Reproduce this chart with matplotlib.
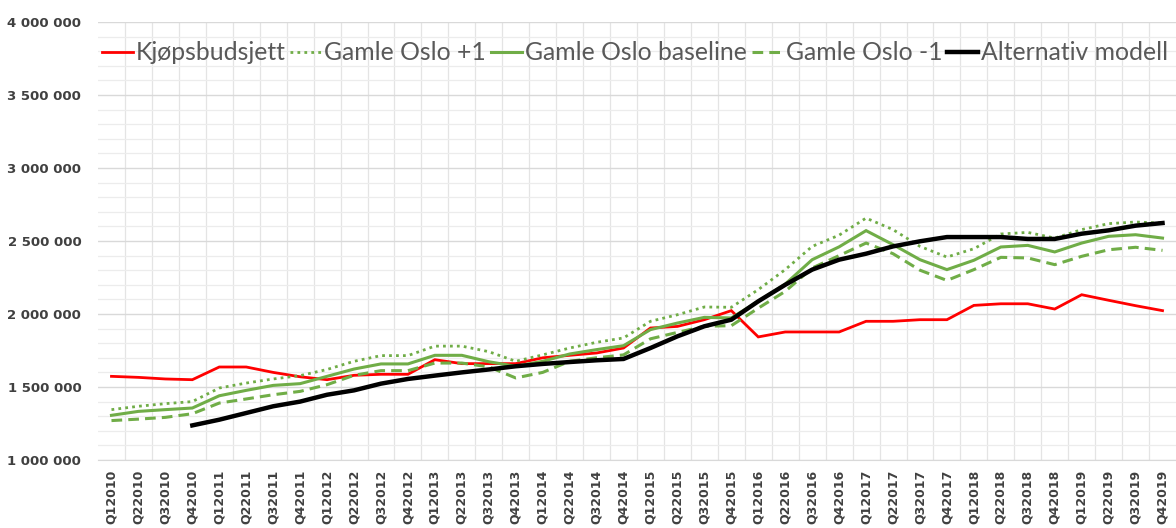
import numpy as np
import matplotlib
matplotlib.use('Agg')
from matplotlib import pyplot as plt
from matplotlib.ticker import MultipleLocator, FuncFormatter

quarters = ['Q%d%d' % (q, y) for y in range(2010, 2020) for q in range(1, 5)]

kjopsbudsjett = [1573, 1566, 1555, 1550, 1637, 1637, 1600, 1570, 1550, 1580,
                 1587, 1587, 1687, 1660, 1660, 1660, 1700, 1717, 1733, 1767,
                 1904, 1915, 1961, 2023, 1843, 1877, 1877, 1877, 1950, 1950,
                 1961, 1961, 2059, 2070, 2070, 2034, 2132, 2094, 2057, 2023]

gamle_oslo_p1 = [1345, 1368, 1386, 1400, 1493, 1527, 1555, 1578, 1620, 1676,
                 1715, 1715, 1780, 1780, 1742, 1676, 1720, 1767, 1806, 1836,
                 1950, 1995, 2048, 2046, 2167, 2304, 2463, 2540, 2657, 2578,
                 2463, 2390, 2447, 2548, 2559, 2520, 2578, 2619, 2630, 2623]

gamle_oslo_base = [1306, 1333, 1345, 1356, 1440, 1477, 1511, 1523, 1573, 1623,
                   1658, 1658, 1717, 1717, 1673, 1642, 1676, 1726, 1756, 1783,
                   1893, 1938, 1977, 1973, 2087, 2205, 2372, 2460, 2571, 2475,
                   2372, 2304, 2368, 2459, 2470, 2425, 2486, 2532, 2543, 2520]

gamle_oslo_m1 = [1270, 1280, 1292, 1317, 1390, 1418, 1447, 1470, 1516, 1580,
                 1612, 1612, 1664, 1664, 1638, 1562, 1600, 1676, 1700, 1720,
                 1830, 1874, 1916, 1920, 2040, 2155, 2315, 2400, 2486, 2413,
                 2300, 2230, 2304, 2388, 2384, 2338, 2395, 2440, 2457, 2436]

alternativ = [np.nan, np.nan, np.nan, 1237, 1276, 1322, 1368, 1400, 1447, 1477,
              1523, 1555, 1578, 1600, 1620, 1642, 1658, 1671, 1683, 1692,
              1767, 1847, 1916, 1961, 2087, 2200, 2304, 2372, 2413, 2463,
              2498, 2527, 2527, 2527, 2514, 2514, 2550, 2573, 2605, 2623]

series = [
    ('Kjøpsbudsjett', kjopsbudsjett, '#ff0000', '-', 2.0),
    ('Gamle Oslo +1', gamle_oslo_p1, '#70ad47', (0, (1, 1.5)), 2.0),
    ('Gamle Oslo baseline', gamle_oslo_base, '#70ad47', '-', 2.2),
    ('Gamle Oslo -1', gamle_oslo_m1, '#70ad47', (0, (3.5, 2)), 2.2),
    ('Alternativ modell', alternativ, '#000000', '-', 3.2),
]

fig = plt.figure(figsize=(11.76, 5.28), dpi=100)
ax = fig.add_axes([98 / 1176, 1 - 460 / 528, 1 - 98 / 1176, 438 / 528])

x = np.arange(len(quarters))
for name, vals, col, ls, lw in series:
    ax.plot(x, np.array(vals, dtype=float) * 1000, color=col, linestyle=ls,
            linewidth=lw, label=name, solid_joinstyle='miter')

ax.set_xlim(-0.5, len(quarters) - 0.5)
ax.set_ylim(1000000, 4000000)
ax.yaxis.set_major_locator(MultipleLocator(500000))
ax.yaxis.set_minor_locator(MultipleLocator(100000))
ax.yaxis.set_major_formatter(FuncFormatter(lambda v, p: '{:,.0f}'.format(v).replace(',', ' ')))
ax.set_xticks(x)
ax.set_xticks(x[:-1] + 0.5, minor=True)
ax.set_xticklabels(quarters, rotation=90)

ax.grid(which='major', axis='y', color='#d9d9d9', linewidth=1.0)
ax.grid(which='minor', axis='y', color='#ececec', linewidth=0.9)
ax.grid(which='minor', axis='x', color='#e4e4e4', linewidth=0.9)
ax.set_axisbelow(True)

ax.tick_params(which='both', length=0)
ax.tick_params(axis='y', pad=12)
ax.tick_params(axis='x', pad=7)
for lab in ax.get_yticklabels():
    lab.set_fontfamily('DejaVu Sans')
    lab.set_fontweight('bold')
    lab.set_fontsize(9.5)
    lab.set_color('#404040')
for lab in ax.get_xticklabels():
    lab.set_fontfamily('DejaVu Sans')
    lab.set_fontweight('bold')
    lab.set_fontsize(9)
    lab.set_color('#404040')

for s in ['top', 'right', 'left']:
    ax.spines[s].set_visible(False)
ax.spines['bottom'].set_color('#d9d9d9')

leg = ax.legend(loc='upper center', bbox_to_anchor=(0.498, 0.99), ncol=5, frameon=False,
                handlelength=1.25, handletextpad=0.12, columnspacing=0.2,
                borderaxespad=0.2, prop={'family': 'Lato', 'size': 17.8})
for t in leg.get_texts():
    t.set_color('#595959')

fig.savefig('out.png', dpi=100, facecolor='white')
